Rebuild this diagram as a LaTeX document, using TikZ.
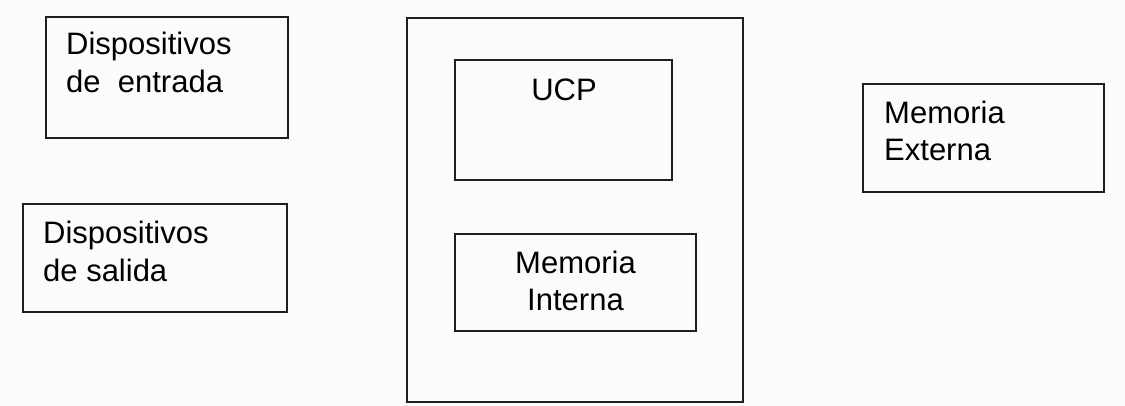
\documentclass[tikz,border=0pt]{standalone}
\usepackage{fontspec}
\setmainfont{Liberation Sans}
\definecolor{bg}{RGB}{252,250,253}
\definecolor{edge}{RGB}{30,30,30}
\begin{document}
\begin{tikzpicture}[x=1pt,y=-1pt,
  boxstyle/.style={draw=edge,line width=1.6pt},
  txt/.style={inner sep=0pt,font=\fontsize{31}{37}\selectfont,text=black}]
\fill[bg] (0,0) rectangle (1125,406);
\useasboundingbox (0,0) rectangle (1125,406);
% boxes
\draw[boxstyle] (46,17) rectangle (288,138);
\draw[boxstyle] (23,204) rectangle (287,312);
\draw[boxstyle] (407,18) rectangle (743,402);
\draw[boxstyle] (455,60) rectangle (672,180);
\draw[boxstyle] (455,234) rectangle (696,331);
\draw[boxstyle] (863,84) rectangle (1104,192);
% texts
\node[txt,anchor=base west] (e1) at (66,55) {Dispositivos};
\node[txt,anchor=base west] (e2) at (66,93) {de\ \ entrada};
\node[txt,anchor=base west] (s1) at (43,244) {Dispositivos};
\node[txt,anchor=base west] (s2) at (43,282) {de salida};
\node[txt,anchor=base] (ucp) at (564,101) {UCP};
\node[txt,anchor=base] (mi1) at (575.5,273) {Memoria};
\node[txt,anchor=base] (mi2) at (575.5,310) {Interna};
\node[txt,anchor=base west] (me1) at (884,124) {Memoria};
\node[txt,anchor=base west] (me2) at (884,161) {Externa};
\end{tikzpicture}
\end{document}
